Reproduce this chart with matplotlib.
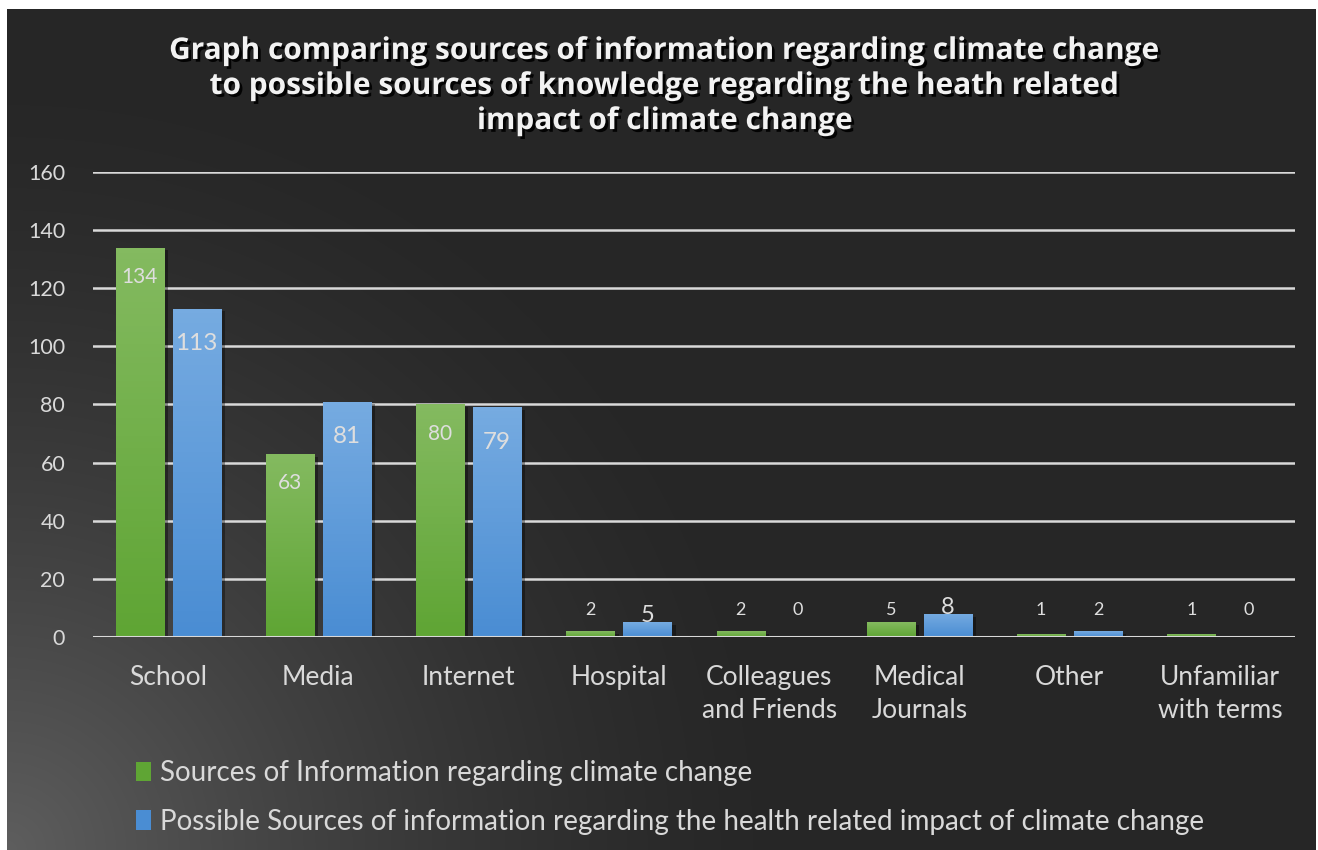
import matplotlib
matplotlib.use("Agg")
import matplotlib.pyplot as plt
import matplotlib.patheffects as pe
from matplotlib.colors import LinearSegmentedColormap
import numpy as np

plt.rcParams['font.family'] = ['Lato', 'DejaVu Sans']

categories = ["School", "Media", "Internet", "Hospital", "Colleagues\nand Friends",
              "Medical\nJournals", "Other", "Unfamiliar\nwith terms"]
climate_info = [134, 63, 80, 2, 2, 5, 1, 1]
health_info = [113, 81, 79, 5, 0, 8, 2, 0]
yticks = [0, 20, 40, 60, 80, 100, 120, 140, 160]

title = ("Graph comparing sources of information regarding climate change\n"
         "to possible sources of knowledge regarding the heath related\n"
         "impact of climate change")
label_green = "Sources of Information regarding climate change"
label_blue = "Possible Sources of information regarding the health related impact of climate change"

W, H = 1318, 850
fig = plt.figure(figsize=(W / 100, H / 100), dpi=100, facecolor='white')

# dark background, lighter towards the lower left corner
bg = fig.add_axes([7 / W, 0, (1316 - 7) / W, (H - 9) / H])
bg.set_axis_off()
yy, xx = np.mgrid[0:841, 0:1309]
d = np.hypot(xx, 841 - yy)
glow = np.clip(1 - d / 800, 0, 1) ** 1.5
shade = (38 + 56 * glow) / 255
bg.imshow(np.dstack([shade] * 3), aspect='auto', extent=[0, 1, 0, 1], interpolation='bilinear')
bg.set_xlim(0, 1)
bg.set_ylim(0, 1)

ax = fig.add_axes([93 / W, (H - 637) / H, (1295 - 93) / W, (637 - 172) / H])
ax.patch.set_alpha(0)

x = np.arange(len(categories))
width = 0.32
off = 0.19
green_top, green_bot = '#84ba60', '#5fa534'
blue_top, blue_bot = '#76abe1', '#4a8dd3'

b1 = ax.bar(x - off, climate_info, width, color=green_bot, label=label_green, zorder=3)
b2 = ax.bar(x + off, health_info, width, color=blue_bot, label=label_blue, zorder=3)

shadow = [pe.SimplePatchShadow(offset=(3, -2), shadow_rgbFace='black', alpha=0.35), pe.Normal()]
for bars, top, bot in ((b1, green_top, green_bot), (b2, blue_top, blue_bot)):
    cmap = LinearSegmentedColormap.from_list('grad', [bot, top])
    for p in bars:
        p.set_path_effects(shadow)
        h = p.get_height()
        if h <= 0:
            continue
        x0 = p.get_x()
        grad = np.linspace(1, 0, 64).reshape(-1, 1)
        im = ax.imshow(grad, cmap=cmap, aspect='auto', origin='upper',
                       extent=[x0, x0 + p.get_width(), 0, h], zorder=4,
                       vmin=0, vmax=1)
        im.set_clip_path(p)

ax.set_xlim(-0.5, len(categories) - 0.5)
ax.set_ylim(0, 160)
ax.set_yticks(yticks)
ax.set_xticks(x)
ax.set_xticklabels(categories, linespacing=1.4)
ax.yaxis.grid(True, color='#d9d9d9', linewidth=1.8, zorder=0)
ax.set_axisbelow(True)
for s in ax.spines.values():
    s.set_visible(False)
ax.axhline(0, color='#d9d9d9', linewidth=2.2, zorder=5)
ax.tick_params(axis='both', length=0, colors='#d9d9d9')
ax.tick_params(axis='y', labelsize=15.5, pad=20)
ax.tick_params(axis='x', labelsize=19, pad=20)

# value labels: inside the bar top for tall bars, above the axis otherwise
txt = '#dedede'
for xi, v in zip(x - off, climate_info):
    if v > 20:
        ax.text(xi, v - 10, str(v), ha='center', va='center', fontsize=15, color=txt, zorder=6)
    else:
        ax.text(xi, max(v + 2.5, 9.3), str(v), ha='center', va='center', fontsize=13, color=txt, zorder=6)
for xi, v in zip(x + off, health_info):
    if v > 20:
        ax.text(xi, v - 12, str(v), ha='center', va='center', fontsize=17.5, color=txt, zorder=6)
    elif v > 2:
        ax.text(xi, v + 2.3, str(v), ha='center', va='center', fontsize=17, color=txt, zorder=6)
    else:
        ax.text(xi, 9.3, str(v), ha='center', va='center', fontsize=13, color=txt, zorder=6)

fig.text(665 / W, 1 - 86 / H, title, ha='center', va='center', fontsize=21.5,
         fontweight='bold', family=['Open Sans', 'DejaVu Sans'], color='#f2f2f2',
         linespacing=1.22,
         path_effects=[pe.withSimplePatchShadow(offset=(2, -2), shadow_rgbFace='black', alpha=0.9)])

leg = fig.legend(handles=[b1, b2], loc='upper left', bbox_to_anchor=(111 / W, 1 - 735 / H),
                 frameon=False, fontsize=20, labelcolor='#d9d9d9', handlelength=0.55,
                 handleheight=0.7, handletextpad=0.3, labelspacing=0.82)
for h in leg.legend_handles:
    h.set_path_effects([])

fig.savefig('out.png', dpi=100, facecolor=fig.get_facecolor())
